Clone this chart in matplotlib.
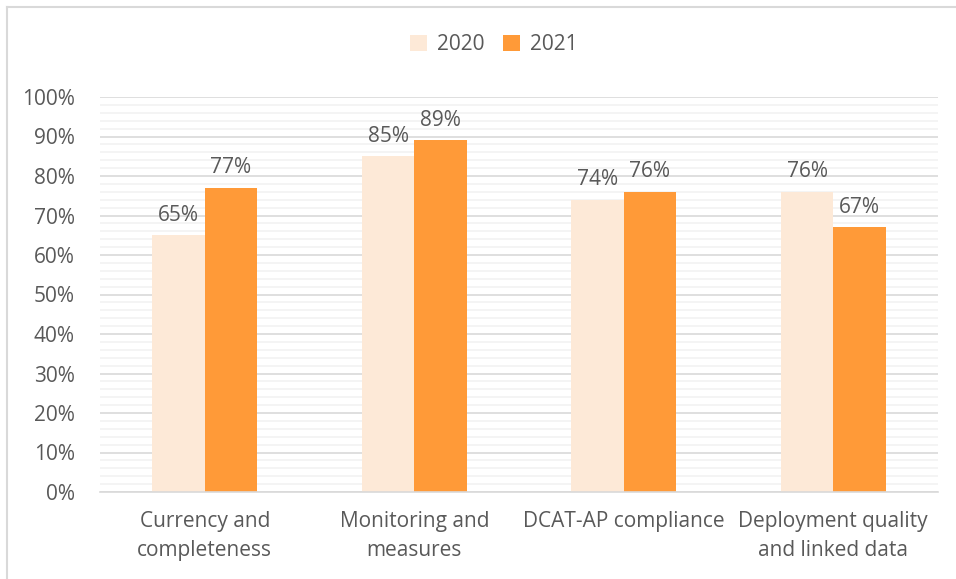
import matplotlib.pyplot as plt
from matplotlib.lines import Line2D
from matplotlib.ticker import MultipleLocator, PercentFormatter
import numpy as np

plt.rcParams['font.family'] = ['Open Sans', 'DejaVu Sans']

categories = ['Currency and\ncompleteness', 'Monitoring and\nmeasures',
              'DCAT-AP compliance', 'Deployment quality\nand linked data']
series_names = ['2020', '2021']
values_2020 = [65, 85, 74, 76]
values_2021 = [77, 89, 76, 67]
colors = ['#FDE9D7', '#FF9A38']
text_color = '#595959'
fs = 15

fig = plt.figure(figsize=(9.56, 5.79), dpi=100)
ax = fig.add_axes([100 / 956, 1 - 492 / 579, 838 / 956, 395 / 579])

x = np.arange(len(categories))
w = 0.25
b1 = ax.bar(x - w / 2, values_2020, w, color=colors[0], label=series_names[0], zorder=3)
b2 = ax.bar(x + w / 2, values_2021, w, color=colors[1], label=series_names[1], zorder=3)

for bars in (b1, b2):
    for rect in bars:
        h = rect.get_height()
        ax.text(rect.get_x() + rect.get_width() / 2, h + 2.4, f'{h:.0f}%',
                ha='center', va='bottom', fontsize=fs, color=text_color)

ax.set_xlim(-0.5, len(categories) - 0.5)
ax.set_ylim(0, 100)
ax.yaxis.set_major_locator(MultipleLocator(10))
ax.yaxis.set_minor_locator(MultipleLocator(2))
ax.yaxis.set_major_formatter(PercentFormatter(decimals=0))
ax.grid(axis='y', which='major', color='#D9D9D9', linewidth=1.2, zorder=0)
ax.grid(axis='y', which='minor', color='#F2F2F2', linewidth=1.2, zorder=0)
ax.set_xticks(x)
ax.set_xticklabels(categories, fontsize=fs, color=text_color, linespacing=1.5)
ax.tick_params(axis='y', labelsize=fs, labelcolor=text_color, length=0, pad=18)
ax.tick_params(axis='x', length=0, pad=14)
ax.tick_params(which='minor', length=0)
for side in ('top', 'right', 'left'):
    ax.spines[side].set_visible(False)
ax.spines['bottom'].set_color('#D9D9D9')
ax.spines['bottom'].set_linewidth(1.2)
ax.spines['bottom'].set_zorder(4)

fig.legend(loc='center', bbox_to_anchor=(494 / 956, 1 - 45 / 579), ncol=2, frameon=False,
           fontsize=fs, labelcolor=text_color, handlelength=0.8, handleheight=0.8,
           handletextpad=0.5, columnspacing=0.9)

# chart frame edges
fig.add_artist(Line2D([7 / 956, 1], [1 - 7 / 579, 1 - 7 / 579], color='#D9D9D9', lw=1.5))
fig.add_artist(Line2D([7 / 956, 7 / 956], [0, 1 - 7 / 579], color='#D9D9D9', lw=1.5))

fig.savefig('out.png', dpi=100)
